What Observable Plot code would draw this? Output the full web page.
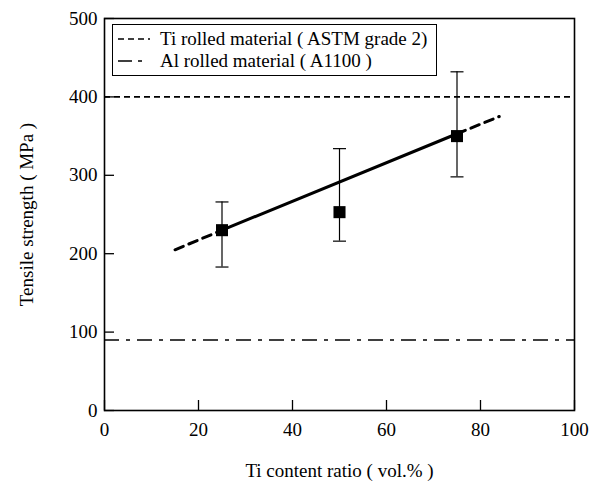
<!DOCTYPE html>
<html>
<head>
<meta charset="utf-8">
<script src="https://cdn.jsdelivr.net/npm/d3@7"></script>
<script src="https://cdn.jsdelivr.net/npm/@observablehq/plot@0.6"></script>
<style>
  html, body { margin: 0; padding: 0; background: #fff; }
  #wrap { position: relative; width: 595px; height: 486px; }
  #legend {
    position: absolute; left: 112px; top: 24px; width: 323px; height: 50px;
    border: 1px solid #000; background: #fff; box-sizing: content-box;
    font-family: "Liberation Serif", "DejaVu Serif", serif; font-size: 19px; color: #000;
  }
  .row { position: absolute; left: 0; height: 22px; display: flex; align-items: center; white-space: nowrap; }
  .row svg { margin-left: 5px; margin-right: 10px; }
</style>
</head>
<body>
<div id="wrap"></div>
<script>
// ---- data ----
const tiContent = [25, 50, 75];            // Ti content ratio (vol.%)
const strength  = [230, 253, 350];         // mean tensile strength (MPa)
const errLow    = [183, 216, 298];         // lower error bound
const errHigh   = [266, 334, 432];         // upper error bound

const fitSolidX = [25, 75];                // fitted trend, measured range
const fitSolidY = [230, 353];
const fitLeftX  = [15, 25];                // extrapolation (dashed)
const fitLeftY  = [205, 230];
const fitRightX = [75, 84];
const fitRightY = [353, 375];

const tiRolled = [400];                    // Ti rolled material (ASTM grade 2)
const alRolled = [90];                     // Al rolled material (A1100)

const xTicks = [0, 20, 40, 60, 80, 100];
const yTicks = [0, 100, 200, 300, 400, 500];

const legendLabels = ["Ti rolled material ( ASTM grade 2)", "Al rolled material ( A1100 )"];
const xLabel = "Ti content ratio ( vol.% )";
const yLabel = "Tensile strength ( MPa )";

// ---- tables ----
const points = tiContent.map((x, i) => ({x, y: strength[i], lo: errLow[i], hi: errHigh[i]}));
const toPts = (xs, ys) => xs.map((x, i) => ({x, y: ys[i]}));

const capSymbol = { draw(ctx) { ctx.moveTo(-6.5, 0); ctx.lineTo(6.5, 0); } };

const chart = Plot.plot({
  width: 595,
  height: 486,
  marginLeft: 104,
  marginRight: 21,
  marginTop: 18,
  marginBottom: 76,
  style: { fontFamily: "'Liberation Serif', 'DejaVu Serif', serif", fontSize: "19px", color: "#000", background: "#fff" },
  x: { domain: [0, 100] },
  y: { domain: [0, 500] },
  marks: [
    Plot.axisX({ ticks: xTicks, tickSize: -10, tickPadding: 22, label: xLabel, labelAnchor: "center", labelOffset: 66, labelArrow: "none", strokeWidth: 1.3 }),
    Plot.axisY({ ticks: yTicks, tickSize: -10, tickPadding: 17, label: yLabel, labelAnchor: "center", labelOffset: 85, labelArrow: "none", strokeWidth: 1.3 }),
    Plot.ruleY(tiRolled, { stroke: "#000", strokeWidth: 1.6, strokeDasharray: "6,4" }),
    Plot.ruleY(alRolled, { stroke: "#000", strokeWidth: 1.6, strokeDasharray: "15,7,4,7" }),
    Plot.ruleX(points, { x: "x", y1: "lo", y2: "hi", stroke: "#000", strokeWidth: 1.2 }),
    Plot.dot(points, { x: "x", y: "lo", symbol: capSymbol, r: 6, stroke: "#000", strokeWidth: 1.2, fill: "none" }),
    Plot.dot(points, { x: "x", y: "hi", symbol: capSymbol, r: 6, stroke: "#000", strokeWidth: 1.2, fill: "none" }),
    Plot.line(toPts(fitSolidX, fitSolidY), { x: "x", y: "y", stroke: "#000", strokeWidth: 3 }),
    Plot.line(toPts(fitLeftX, fitLeftY), { x: "x", y: "y", stroke: "#000", strokeWidth: 3, strokeDasharray: "9,6" }),
    Plot.line(toPts(fitRightX, fitRightY), { x: "x", y: "y", stroke: "#000", strokeWidth: 3, strokeDasharray: "9,6" }),
    Plot.dot(points, { x: "x", y: "y", symbol: "square", r: 6.8, fill: "#000", stroke: "none" }),
    Plot.frame({ stroke: "#000", strokeWidth: 1.6 })
  ]
});

const wrap = document.getElementById("wrap");
wrap.appendChild(chart);

// legend (inside the plot frame, as in the reference)
const legend = document.createElement("div");
legend.id = "legend";
const samples = [
  '<svg width="32" height="6"><line x1="0" y1="3" x2="32" y2="3" stroke="#000" stroke-width="1.6" stroke-dasharray="6,4"/></svg>',
  '<svg width="32" height="6"><line x1="0" y1="3" x2="32" y2="3" stroke="#000" stroke-width="1.6" stroke-dasharray="14,6,4,20"/></svg>'
];
legendLabels.forEach((t, i) => {
  const row = document.createElement("div");
  row.className = "row";
  row.style.top = (3 + i * 22) + "px";
  row.innerHTML = samples[i] + "<span>" + t + "</span>";
  legend.appendChild(row);
});
wrap.appendChild(legend);
</script>
</body>
</html>
